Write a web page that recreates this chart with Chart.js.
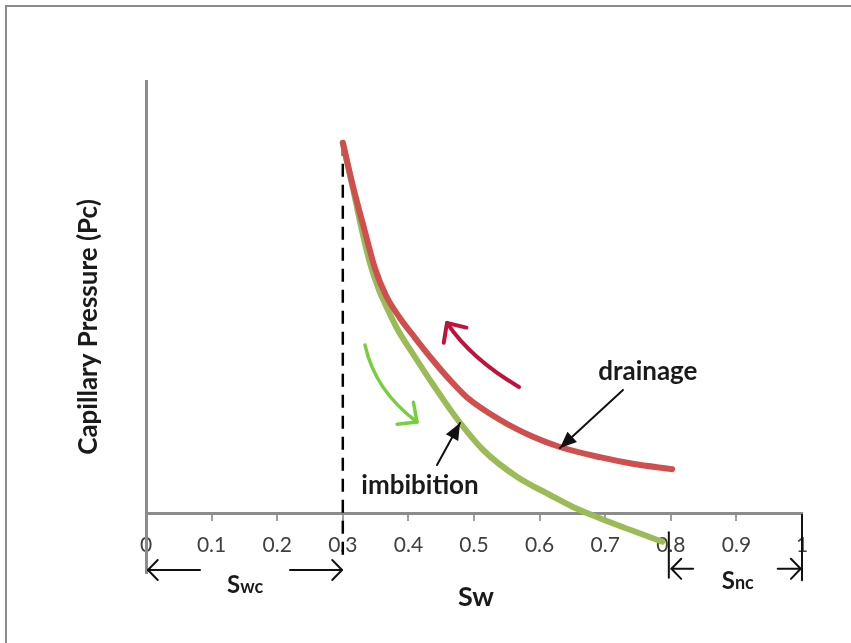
<!DOCTYPE html>
<html>
<head>
<meta charset="utf-8">
<script src="https://cdn.jsdelivr.net/npm/chart.js@4"></script>
<style>
  body { margin: 0; background: #fff; }
  #wrap { position: relative; width: 851px; height: 643px; }
  #frame {
    position: absolute; left: 5px; top: 5px; right: 0; bottom: 0;
    border-top: 2px solid #8c8c8c; border-left: 2px solid #8c8c8c;
  }
  #chart { position: absolute; left: 0; top: 0; }
</style>
</head>
<body>
<div id="wrap">
  <div id="frame"></div>
  <canvas id="chart" width="851" height="643"></canvas>
</div>
<script>
// water saturation vs capillary pressure (arbitrary units)
const drainageSw = [0.300, 0.317, 0.334, 0.349, 0.366, 0.387, 0.410, 0.437, 0.463, 0.489, 0.540, 0.590, 0.631, 0.692, 0.742, 0.802];
const drainagePc = [6.17, 5.38, 4.68, 4.08, 3.62, 3.25, 2.92, 2.55, 2.22, 1.93, 1.55, 1.27, 1.10, 0.93, 0.82, 0.73];

const imbibitionSw = [0.300, 0.316, 0.329, 0.341, 0.354, 0.369, 0.384, 0.410, 0.437, 0.474, 0.514, 0.566, 0.616, 0.651, 0.688, 0.738, 0.787];
const imbibitionPc = [6.17, 5.38, 4.72, 4.18, 3.75, 3.38, 3.05, 2.60, 2.15, 1.57, 1.05, 0.60, 0.30, 0.10, -0.07, -0.28, -0.48];

const xTicks = [0, 0.1, 0.2, 0.3, 0.4, 0.5, 0.6, 0.7, 0.8, 0.9, 1];
const xTickLabels = ["0", "0.1", "0.2", "0.3", "0.4", "0.5", "0.6", "0.7", "0.8", "0.9", "1"];

const swc = 0.3;
const snc = 0.8;

const toPoints = (xs, ys) => xs.map((x, i) => ({ x: x, y: ys[i] }));

const FONT = "Lato, 'Open Sans', sans-serif";

function arrowHead(ctx, tipX, tipY, fromX, fromY, len, spread, filled) {
  const a = Math.atan2(tipY - fromY, tipX - fromX);
  const x1 = tipX - len * Math.cos(a - spread), y1 = tipY - len * Math.sin(a - spread);
  const x2 = tipX - len * Math.cos(a + spread), y2 = tipY - len * Math.sin(a + spread);
  ctx.beginPath();
  ctx.moveTo(x1, y1);
  ctx.lineTo(tipX, tipY);
  ctx.lineTo(x2, y2);
  if (filled) {
    ctx.closePath();
    ctx.fill();
  } else {
    ctx.stroke();
  }
}

// dashed Swc line goes under the curves
const swcLine = {
  id: 'swcLine',
  beforeDatasetsDraw(chart) {
    const { ctx, scales: { x, y } } = chart;
    ctx.save();
    ctx.strokeStyle = '#000';
    ctx.lineWidth = 2.5;
    ctx.setLineDash([13, 8]);
    ctx.beginPath();
    ctx.moveTo(x.getPixelForValue(swc), y.getPixelForValue(drainagePc[0]));
    ctx.lineTo(x.getPixelForValue(swc), y.getPixelForValue(-0.75));
    ctx.stroke();
    ctx.restore();
  }
};

// arrows and labels
const notes = {
  id: 'notes',
  afterDatasetsDraw(chart) {
    const { ctx, scales: { x, y } } = chart;
    const px = v => x.getPixelForValue(v);
    const py = v => y.getPixelForValue(v);
    ctx.save();
    ctx.lineCap = 'round';
    ctx.lineJoin = 'round';

    // curved direction arrows
    const curved = (p0, c, p1, color, width) => {
      ctx.strokeStyle = color;
      ctx.lineWidth = width;
      ctx.beginPath();
      ctx.moveTo(px(p0[0]), py(p0[1]));
      ctx.quadraticCurveTo(px(c[0]), py(c[1]), px(p1[0]), py(p1[1]));
      ctx.stroke();
      arrowHead(ctx, px(p1[0]), py(p1[1]), px(c[0]), py(c[1]), 20, 0.75, false);
    };
    curved([0.5686, 2.10], [0.4954, 2.567], [0.4588, 3.167], '#c0123a', 4);
    curved([0.3338, 2.80], [0.3490, 2.04], [0.4131, 1.517], '#76cf3c', 3.5);

    // pointer arrows
    const pointer = (p0, p1) => {
      ctx.strokeStyle = '#111';
      ctx.fillStyle = '#111';
      ctx.lineWidth = 2;
      ctx.beginPath();
      ctx.moveTo(px(p0[0]), py(p0[1]));
      ctx.lineTo(px(p1[0]), py(p1[1]));
      ctx.stroke();
      arrowHead(ctx, px(p1[0]), py(p1[1]), px(p0[0]), py(p0[1]), 18, 0.4, true);
    };
    pointer([0.7271, 2.05], [0.6311, 1.083]);
    pointer([0.4436, 0.80], [0.4787, 1.50]);

    ctx.fillStyle = '#1a1a1a';
    ctx.textAlign = 'center';
    ctx.textBaseline = 'middle';
    ctx.font = 'bold 26px ' + FONT;
    ctx.fillText('drainage', px(0.765), py(2.35));
    ctx.fillText('imbibition', px(0.4177), py(0.45));

    // Swc / Snc spans under the axis
    ctx.strokeStyle = '#111';
    ctx.lineWidth = 2;
    const hArrow = (from, to, yv) => {
      ctx.beginPath();
      ctx.moveTo(px(from), py(yv));
      ctx.lineTo(px(to), py(yv));
      ctx.stroke();
      arrowHead(ctx, px(to), py(yv), px(from), py(yv), 14, 0.8, false);
    };
    const vBar = (xv, y0, y1) => {
      ctx.beginPath();
      ctx.moveTo(px(xv), py(y0));
      ctx.lineTo(px(xv), py(y1));
      ctx.stroke();
    };
    hArrow(0.0823, 0.003, -0.95);
    hArrow(0.2195, 0.2988, -0.95);
    vBar(snc - 0.003, -0.32, -1.08);
    hArrow(0.834, 0.801, -0.93);
    hArrow(0.963, 0.998, -0.93);
    vBar(1.0, -0.03, -1.12);

    const subLabel = (main, sub, xv, yv) => {
      ctx.textAlign = 'left';
      ctx.textBaseline = 'alphabetic';
      ctx.font = 'bold 24px ' + FONT;
      const w1 = ctx.measureText(main).width;
      ctx.font = 'bold 18px ' + FONT;
      const w2 = ctx.measureText(sub).width;
      const left = px(xv) - (w1 + w2) / 2;
      ctx.font = 'bold 24px ' + FONT;
      ctx.fillText(main, left, py(yv));
      ctx.font = 'bold 18px ' + FONT;
      ctx.fillText(sub, left + w1, py(yv));
    };
    subLabel('S', 'wc', 0.151, -1.33);
    subLabel('S', 'nc', 0.902, -1.27);

    ctx.textAlign = 'center';
    ctx.textBaseline = 'middle';
    ctx.font = 'bold 27px ' + FONT;
    ctx.fillText('Sw', px(0.503), py(-1.4));
    ctx.restore();
  }
};

new Chart(document.getElementById('chart'), {
  type: 'line',
  data: {
    datasets: [
      {
        label: 'drainage',
        data: toPoints(drainageSw, drainagePc),
        borderColor: '#cf4f4f',
        borderWidth: 6,
        pointRadius: 0,
        cubicInterpolationMode: 'monotone',
        borderCapStyle: 'round'
      },
      {
        label: 'imbibition',
        data: toPoints(imbibitionSw, imbibitionPc),
        borderColor: '#9bbb59',
        borderWidth: 6,
        pointRadius: 0,
        cubicInterpolationMode: 'monotone',
        borderCapStyle: 'round'
      }
    ]
  },
  options: {
    responsive: false,
    animation: false,
    events: [],
    layout: { padding: { left: 0, top: 81, right: 49, bottom: 70 } },
    plugins: {
      legend: { display: false },
      tooltip: { enabled: false }
    },
    scales: {
      x: {
        type: 'linear',
        position: { y: 0 },
        min: 0,
        max: 1,
        afterBuildTicks: scale => {
          scale.ticks = xTicks.map(v => ({ value: v }));
        },
        ticks: {
          callback: (value, index) => xTickLabels[index],
          color: '#404040',
          font: { family: FONT, size: 21 },
          padding: 14,
          maxRotation: 0,
          autoSkip: false
        },
        grid: {
          drawOnChartArea: false,
          tickLength: 6,
          color: '#a0a0a0',
          lineWidth: 2
        },
        border: { color: '#8c8c8c', width: 3 }
      },
      y: {
        min: -1,
        max: 7.2,
        afterFit: scale => { scale.width = 146; },
        ticks: { display: false },
        grid: { display: false },
        border: { color: '#8c8c8c', width: 3 },
        title: {
          display: true,
          text: 'Capillary Pressure (Pc)',
          color: '#1a1a1a',
          font: { family: FONT, size: 26, weight: 'bold' },
          padding: { top: 73, bottom: 0 }
        }
      }
    }
  },
  plugins: [swcLine, notes]
});
</script>
</body>
</html>
